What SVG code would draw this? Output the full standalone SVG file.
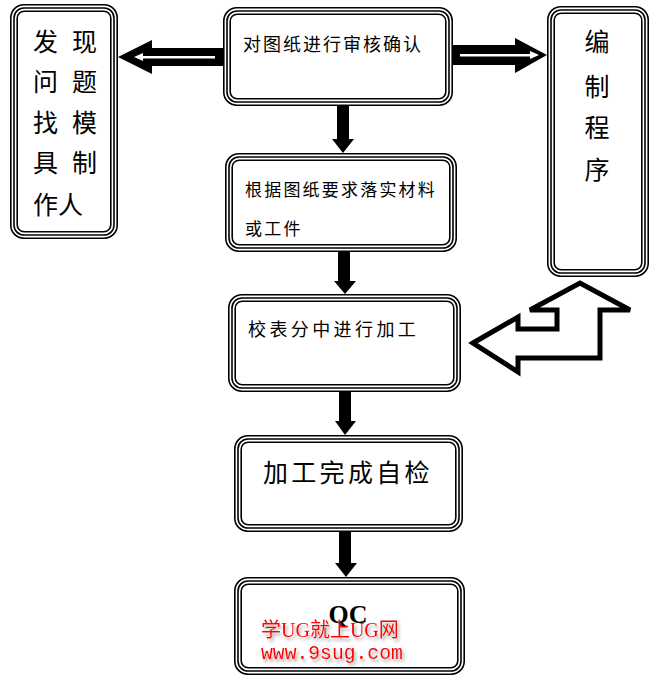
<svg xmlns="http://www.w3.org/2000/svg" width="667" height="677" viewBox="0 0 667 677">
<defs>
<style>
.b{fill:none;stroke:#000;stroke-width:1.6}
.bg{fill:#fff}
.t{font-family:"Noto Sans CJK SC","Noto Sans CJK JP",sans-serif;fill:#000}
.wm{font-family:"Liberation Serif","Noto Sans CJK SC",serif;fill:#f00}
.wmm{font-family:"Liberation Mono",monospace;fill:#f00}
</style>
<filter id="sh" x="-10%" y="-20%" width="130%" height="160%">
<feDropShadow dx="2" dy="3" stdDeviation="1.5" flood-color="#888" flood-opacity="0.7"/>
</filter>
</defs>
<rect width="667" height="677" fill="#fff"/>

<g id="connectors">
<!-- left hollow arrow -->
<polygon points="118,57 152,40 152,48 223,48 223,66 152,66 152,74" fill="#000"/>
<polygon points="134,57 143,53 143,56 215,56 215,58.5 143,58.5 143,61" fill="#fff"/>
<!-- right hollow arrow -->
<polygon points="547,55 515,38 515,45 453,45 453,65 515,65 515,73" fill="#000"/>
<polygon points="539,55 530,51 530,54 460,54 460,56.5 530,56.5 530,59" fill="#fff"/>
<!-- down arrows -->
<rect x="337" y="106" width="12" height="34"/>
<polygon points="332,139 354,139 343,153"/>
<rect x="338" y="252" width="12" height="30"/>
<polygon points="334,281 356,281 345,294"/>
<rect x="339" y="392" width="12" height="30"/>
<polygon points="335,421 356,421 345,435"/>
<rect x="339" y="532" width="12" height="32"/>
<polygon points="335,563 357,563 346,577"/>
<!-- U-turn outline arrow -->
<polygon points="473,343 518,317 518,329 557,329 557,310 530,310 580,283 630,310 600,310 600,358 518,358 518,372" fill="#fff" stroke="#000" stroke-width="5" stroke-linejoin="miter"/>
</g>

<g id="node-left">
<rect class="bg" x="10" y="4" width="108" height="235" rx="13"/>
<rect class="b" x="10.8" y="4.8" width="106.4" height="233.4" rx="13"/>
<rect class="b" x="14" y="8" width="100" height="227" rx="10"/>
<rect class="b" x="17.2" y="11.2" width="93.6" height="220.6" rx="7"/>
<text class="t" font-size="25" x="33" y="51">发</text>
<text class="t" font-size="25" x="72" y="51">现</text>
<text class="t" font-size="25" x="33" y="91">问</text>
<text class="t" font-size="25" x="72" y="91">题</text>
<text class="t" font-size="25" x="33" y="132">找</text>
<text class="t" font-size="25" x="72" y="132">模</text>
<text class="t" font-size="25" x="33" y="172">具</text>
<text class="t" font-size="25" x="72" y="172">制</text>
<text class="t" font-size="25" x="33" y="214">作人</text>
</g>

<g id="node-review">
<rect class="bg" x="223" y="7" width="230" height="99" rx="13"/>
<rect class="b" x="223.8" y="7.8" width="228.4" height="97.4" rx="13"/>
<rect class="b" x="227" y="11" width="222" height="91" rx="10"/>
<rect class="b" x="230.2" y="14.2" width="215.6" height="84.6" rx="7"/>
<text class="t" font-size="18" letter-spacing="2" x="243" y="51">对图纸进行审核确认</text>
</g>

<g id="node-program">
<rect class="bg" x="547" y="6" width="102" height="271" rx="13"/>
<rect class="b" x="547.8" y="6.8" width="100.4" height="269.4" rx="13"/>
<rect class="b" x="551" y="10" width="94" height="263" rx="10"/>
<rect class="b" x="554.2" y="13.2" width="87.6" height="256.6" rx="7"/>
<text class="t" font-size="25" text-anchor="middle" x="597" y="51">编</text>
<text class="t" font-size="25" text-anchor="middle" x="597" y="96">制</text>
<text class="t" font-size="25" text-anchor="middle" x="597" y="137">程</text>
<text class="t" font-size="25" text-anchor="middle" x="597" y="179">序</text>
</g>

<g id="node-material">
<rect class="bg" x="225" y="153" width="232" height="99" rx="13"/>
<rect class="b" x="225.8" y="153.8" width="230.4" height="97.4" rx="13"/>
<rect class="b" x="229" y="157" width="224" height="91" rx="10"/>
<rect class="b" x="232.2" y="160.2" width="217.6" height="84.6" rx="7"/>
<text class="t" font-size="17" letter-spacing="2.2" x="245" y="196">根据图纸要求落实材料</text>
<text class="t" font-size="17" letter-spacing="2.2" x="245" y="235">或工件</text>
</g>

<g id="node-machining">
<rect class="bg" x="228" y="294" width="233" height="98" rx="13"/>
<rect class="b" x="228.8" y="294.8" width="231.4" height="96.4" rx="13"/>
<rect class="b" x="232" y="298" width="225" height="90" rx="10"/>
<rect class="b" x="235.2" y="301.2" width="218.6" height="83.6" rx="7"/>
<text class="t" font-size="18" letter-spacing="3.4" x="248" y="336">校表分中进行加工</text>
</g>

<g id="node-selfcheck">
<rect class="bg" x="234" y="435" width="229" height="97" rx="13"/>
<rect class="b" x="234.8" y="435.8" width="227.4" height="95.4" rx="13"/>
<rect class="b" x="238" y="439" width="221" height="89" rx="10"/>
<rect class="b" x="241.2" y="442.2" width="214.6" height="82.6" rx="7"/>
<text class="t" font-size="25" letter-spacing="3.3" x="263" y="482">加工完成自检</text>
</g>

<g id="node-qc">
<rect class="bg" x="234" y="577" width="231" height="98" rx="13"/>
<rect class="b" x="234.8" y="577.8" width="229.4" height="96.4" rx="13"/>
<rect class="b" x="238" y="581" width="223" height="90" rx="10"/>
<rect class="b" x="241.2" y="584.2" width="216.6" height="83.6" rx="7"/>
<text font-family="Liberation Serif,serif" font-weight="bold" font-size="26" text-anchor="middle" x="348" y="623">QC</text>
<g filter="url(#sh)">
<text class="wm" font-size="20" x="261" y="637">学UG就上UG网</text>
<text class="wmm" font-size="19.7" x="261" y="659">www.9sug.com</text>
</g>
</g>
</svg>
